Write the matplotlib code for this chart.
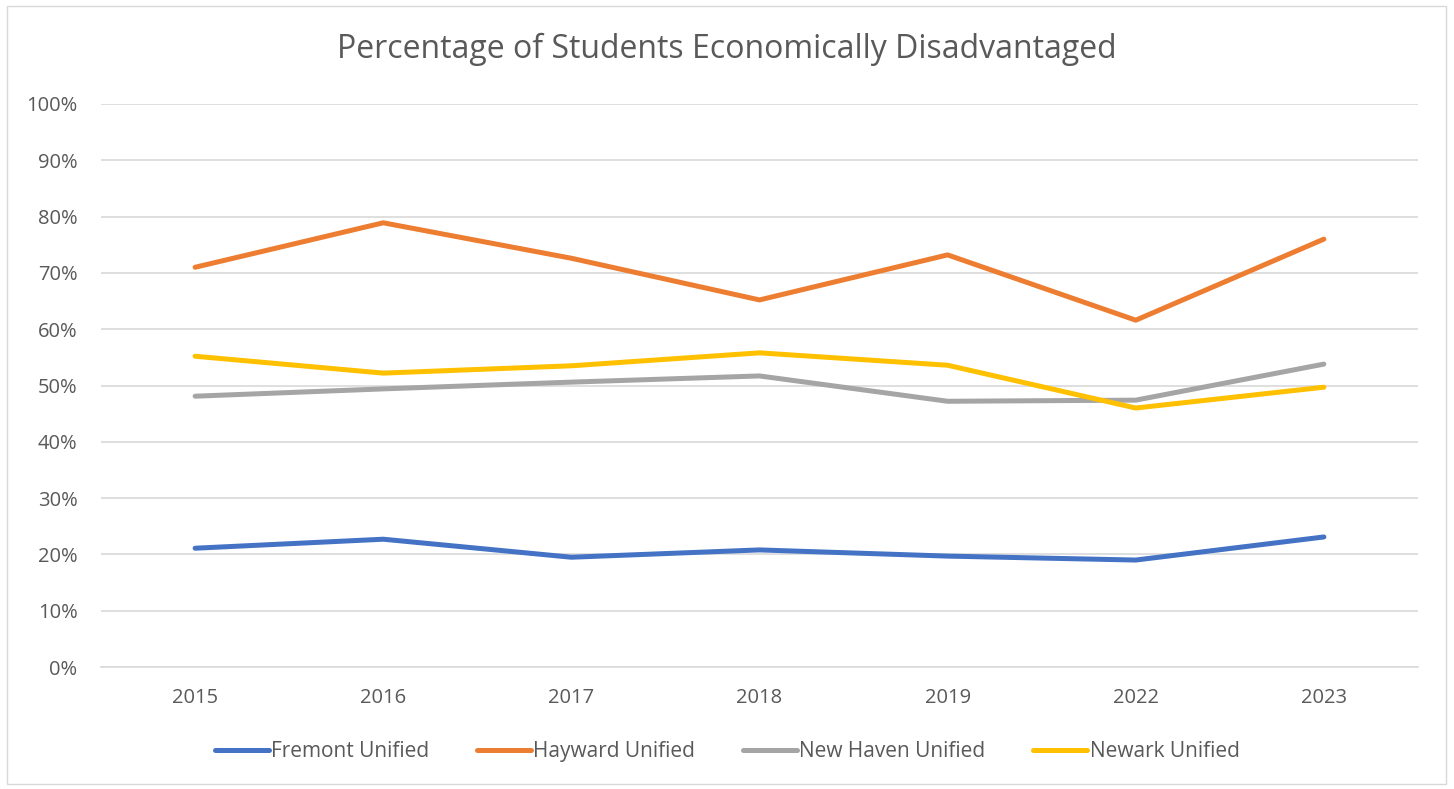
import matplotlib
matplotlib.use("Agg")
import matplotlib.pyplot as plt
from matplotlib.patches import Rectangle
from matplotlib.ticker import PercentFormatter

years = ["2015", "2016", "2017", "2018", "2019", "2022", "2023"]
fremont = [21.1, 22.7, 19.5, 20.8, 19.7, 19.0, 23.1]
hayward = [71.0, 78.9, 72.6, 65.2, 73.2, 61.6, 76.0]
new_haven = [48.1, 49.4, 50.6, 51.7, 47.2, 47.4, 53.8]
newark = [55.2, 52.2, 53.5, 55.8, 53.6, 46.0, 49.7]

series = [
    ("Fremont Unified", fremont, "#4472C4"),
    ("Hayward Unified", hayward, "#ED7D31"),
    ("New Haven Unified", new_haven, "#A5A5A5"),
    ("Newark Unified", newark, "#FFC000"),
]

plt.rcParams["font.family"] = ["Open Sans", "DejaVu Sans"]
text_col = "#595959"

fig = plt.figure(figsize=(14.54, 7.89), dpi=100)
ax = fig.add_axes([0.0695, 0.1546, 0.9057, 0.7136])

x = range(len(years))
for name, vals, col in series:
    ax.plot(x, vals, color=col, lw=3.6, label=name, solid_capstyle="round", solid_joinstyle="round")

ax.set_xlim(-0.5, len(years) - 0.5)
ax.set_ylim(0, 100)
ax.set_yticks(range(0, 101, 10))
ax.yaxis.set_major_formatter(PercentFormatter(decimals=0))
ax.set_xticks(list(x))
ax.set_xticklabels(years)
ax.grid(axis="y", color="#D9D9D9", lw=1.2)
ax.set_axisbelow(True)
for s in ax.spines.values():
    s.set_visible(False)
ax.spines["bottom"].set_visible(True)
ax.spines["bottom"].set_color("#D9D9D9")
ax.spines["bottom"].set_linewidth(1.2)
ax.tick_params(length=0, labelsize=14.5, colors=text_col, pad=15)
ax.tick_params(axis="y", pad=17)

fig.text(0.5, 0.938, "Percentage of Students Economically Disadvantaged",
         ha="center", va="center", fontsize=23, color=text_col)

leg = fig.legend(loc="center", bbox_to_anchor=(0.5, 0.047), ncol=4, frameon=False,
                 fontsize=15, handlelength=2.6, handletextpad=0.1, columnspacing=2.3)
for t in leg.get_texts():
    t.set_color(text_col)

fig.patches.append(Rectangle((7 / 1454, 1 - 784 / 789), 1439 / 1454, 778 / 789,
                             transform=fig.transFigure, fill=False, edgecolor="#D9D9D9", lw=1))

fig.savefig("out.png", dpi=100)
